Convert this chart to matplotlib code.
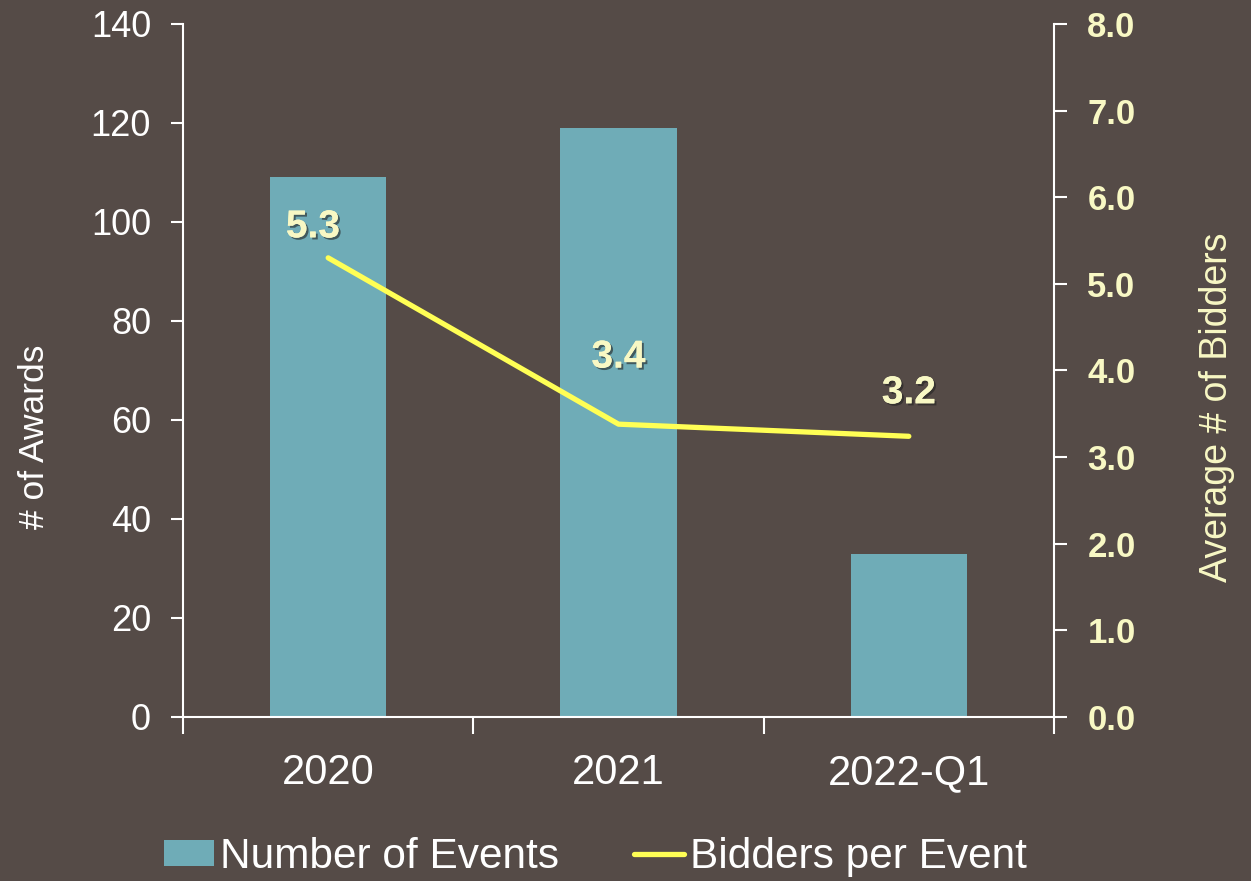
import numpy as np
import matplotlib.pyplot as plt
import matplotlib.patheffects as pe

plt.rcParams['font.family'] = ['Liberation Sans', 'DejaVu Sans']

categories = ["2020", "2021", "2022-Q1"]
events = [109, 119, 33]
bidders = [5.3, 3.38, 3.24]
# label offsets in points from each point
label_offsets = [(-11, 9), (0, 35), (0, 18)]

bg = "#554b47"
bar_color = "#6facb7"
line_color = "#ffff55"
pale = "#f8f8c4"

fig = plt.figure(figsize=(12.51, 8.81), dpi=100, facecolor=bg)
ax = fig.add_axes([0.1463, 0.1862, 0.6962, 0.7866], facecolor=bg)
ax2 = ax.twinx()

x = np.arange(len(categories))
bars = ax.bar(x, events, width=0.4, color=bar_color, label="Number of Events", zorder=2)
ln, = ax2.plot(x, bidders, color=line_color, lw=3.8, solid_capstyle="round",
               label="Bidders per Event", zorder=3)

ax.set_xlim(-0.5, 2.5)
ax.set_ylim(0, 140)
ax.set_yticks(range(0, 141, 20))
ax2.set_ylim(0, 8)
ax2.set_yticks(np.arange(0, 8.1, 1))
ax2.set_yticklabels([f"{v:.1f}" for v in np.arange(0, 8.1, 1)])

ax.set_xticks([-0.5, 0.5, 1.5, 2.5])
ax.set_xticklabels([])
ax.set_xticks(x, minor=True)
ax.set_xticklabels(categories, minor=True)
ax.tick_params(axis="x", which="minor", length=0, pad=26, labelsize=30, labelcolor="white")
ax.tick_params(axis="x", which="major", length=12, width=1.5, color="white", direction="out")
ax.tick_params(axis="y", length=9, width=1.5, color="white", labelsize=26, labelcolor="white", pad=14)
ax2.tick_params(axis="y", length=9, width=1.5, color="white", labelsize=25, labelcolor=pale, pad=15)
for t in ax2.get_yticklabels():
    t.set_fontweight("bold")

for a in (ax, ax2):
    a.spines["top"].set_visible(False)
    for s in ("left", "right", "bottom"):
        a.spines[s].set_color("white")
        a.spines[s].set_linewidth(1.5)
ax.spines["right"].set_visible(False)
ax2.spines["left"].set_visible(False)
ax2.spines["bottom"].set_visible(False)

ax.set_ylabel("# of Awards", color="white", fontsize=25.5)
ax.yaxis.set_label_coords(-0.1515, 0.404)
ax2.set_ylabel("Average # of Bidders", color=pale, fontsize=27)
ax2.yaxis.set_label_coords(1.1665, 0.447)

shadow = [pe.withSimplePatchShadow(offset=(1.5, -1.5), shadow_rgbFace="#222222", alpha=0.6), pe.Normal()]
for xi, v, off in zip(x, bidders, label_offsets):
    ax2.annotate(f"{v:.1f}", (xi, v), xytext=off, textcoords="offset points",
                 ha="center", va="bottom", fontsize=28, fontweight="bold",
                 color=pale, path_effects=shadow, zorder=4)

fig.legend([bars, ln], ["Number of Events", "Bidders per Event"], loc="center",
           bbox_to_anchor=(0.476, 0.027), ncol=2, frameon=False, fontsize=30.5,
           labelcolor="white", handlelength=1.18, handleheight=0.55,
           handletextpad=0.14, columnspacing=1.77)

fig.savefig("out.png", dpi=100, facecolor=bg)
